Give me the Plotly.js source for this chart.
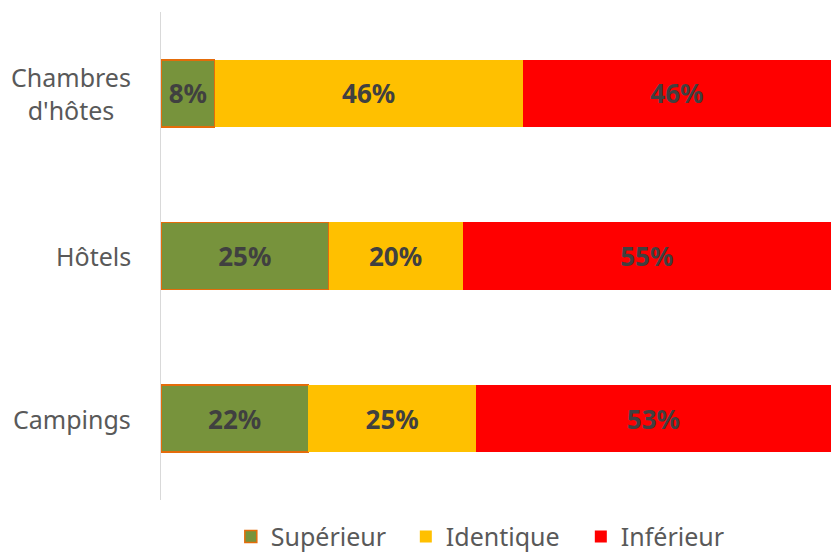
<!DOCTYPE html>
<html><head><meta charset="utf-8">
<script src="https://cdn.plot.ly/plotly-3.0.1.min.js"></script>
<style>html,body{margin:0;padding:0;background:#fff}#chart{width:831px;height:556px}</style>
</head><body><div id="chart"></div>
<script>
const categories = ["Campings", "Hôtels", "Chambres<br>d'hôtes"];
const seriesNames = ["Supérieur", "Identique", "Inférieur"];
const superieur = [22, 25, 8];
const identique = [25, 20, 46];
const inferieur = [53, 55, 46];
const colors = ["#77933C", "#FFC000", "#FF0000"];
const values = [superieur, identique, inferieur];

const traces = values.map((v, i) => ({
  type: "bar", orientation: "h", name: seriesNames[i],
  y: categories, x: v,
  text: v.map(d => d + "%"), texttemplate: "<b>%{text}</b>",
  textposition: "inside", insidetextanchor: "middle",
  textfont: {family: "Noto Sans, sans-serif", size: 26, color: "#404040"},
  marker: {color: colors[i], line: {color: i === 0 ? "#E46C0A" : colors[i], width: i === 0 ? 1.5 : 0}},
  hoverinfo: "none", cliponaxis: false
}));

const annotations = categories.map(c => ({
  x: (133 - 161) / 670, xref: "paper", xanchor: "right",
  y: c, yref: "y", yanchor: "middle",
  text: c, showarrow: false, align: "center",
  font: {family: "Noto Sans, sans-serif", size: 25, color: "#595959"}
}));

Plotly.newPlot("chart", traces, {
  barmode: "stack", bargap: 0.588,
  width: 831, height: 556,
  margin: {l: 161, r: 0, t: 12, b: 56, autoexpand: false},
  paper_bgcolor: "#fff", plot_bgcolor: "#fff",
  font: {family: "Noto Sans, sans-serif", color: "#595959"},
  xaxis: {range: [0, 100], visible: false, fixedrange: true},
  yaxis: {showline: true, linecolor: "#D9D9D9", linewidth: 1.5, ticks: "", showgrid: false,
          showticklabels: false, zeroline: false},
  annotations: annotations,
  showlegend: true,
  legend: {orientation: "h", x: 0.496, xanchor: "center", y: -0.028, yanchor: "top", xref: "paper",
           font: {size: 25, color: "#595959"}, traceorder: "normal",
           entrywidth: 130, entrywidthmode: "pixels", itemclick: false}
}, {staticPlot: true, displayModeBar: false});
</script></body></html>
